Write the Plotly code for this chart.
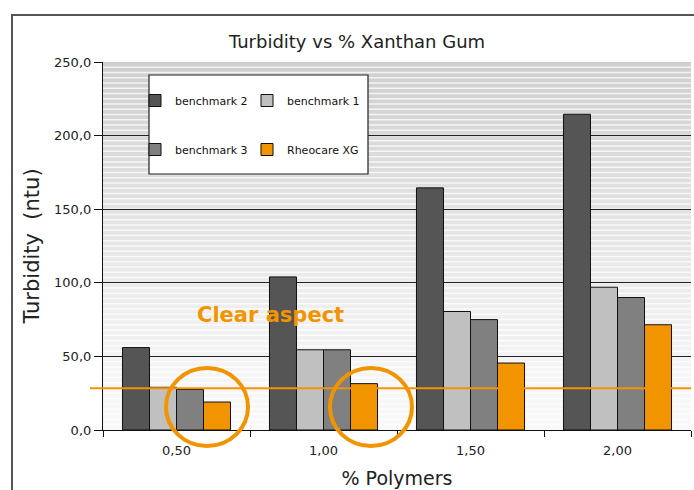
import plotly.graph_objects as go

# ---- data ----
categories = ["0,50", "1,00", "1,50", "2,00"]
benchmark_2 = [56, 104, 164.5, 214.5]
benchmark_1 = [29, 54.5, 80.5, 97]
benchmark_3 = [27.5, 54.5, 75, 90]
rheocare_xg = [19, 31.5, 45.5, 71.5]
clear_threshold = 28.3
y_ticks = [0, 50, 100, 150, 200, 250]

ORANGE = "#F29400"
FONT = "DejaVu Sans"

series = [
    ("benchmark 2", benchmark_2, "#555555", "legend", "g1"),
    ("benchmark 1", benchmark_1, "#C0C0C0", "legend2", "g2"),
    ("benchmark 3", benchmark_3, "#808080", "legend", "g3"),
    ("Rheocare XG", rheocare_xg, ORANGE, "legend2", "g4"),
]

fig = go.Figure()
for name, vals, col, leg, grp in series:
    fig.add_trace(go.Bar(
        x=categories, y=vals, name=name,
        marker=dict(color=col, line=dict(color="#111111", width=1)),
        legend=leg, legendgroup=grp,
    ))

# ---- plot-area geometry (pixels) ----
W, H = 694, 490
ML, MR, MT, MB = 103, 3, 62, 60
PW, PH = W - ML - MR, H - MT - MB

def px_x(x):
    return (x - ML) / PW

def px_y(y):
    return (H - MB - y) / PH

shapes = []
# gradient background with white stripes (texture)
nb = 46
for i in range(nb):
    t0 = i / nb
    t1 = (i + 1) / nb
    tm = (t0 + t1) / 2
    g = int(round(249 - (249 - 206) * (tm ** 1.25)))
    shapes.append(dict(type="rect", xref="paper", yref="paper", x0=0, x1=1,
                       y0=t0, y1=t1, fillcolor=f"rgb({g},{g},{g})",
                       line=dict(width=0), layer="below"))
ns = 70
for i in range(1, ns):
    t = i / ns
    shapes.append(dict(type="line", xref="paper", yref="paper", x0=0, x1=1,
                       y0=t, y1=t, line=dict(color="rgba(255,255,255,0.75)", width=1.5),
                       layer="below"))

# outer chart frame
shapes.append(dict(type="rect", xref="paper", yref="paper",
                   x0=px_x(12), x1=px_x(720), y0=px_y(520), y1=px_y(15),
                   line=dict(color="#555555", width=2), layer="below"))
# legend box
shapes.append(dict(type="rect", xref="paper", yref="paper",
                   x0=px_x(149), x1=px_x(368), y0=px_y(174), y1=px_y(75),
                   fillcolor="white", line=dict(color="#222222", width=1.2), layer="above"))
# clear threshold line
shapes.append(dict(type="line", xref="paper", yref="paper",
                   x0=px_x(90), x1=1, y0=clear_threshold / 250, y1=clear_threshold / 250,
                   line=dict(color=ORANGE, width=2), layer="above"))
# highlight circles
for (cx0, cx1) in [(166, 248), (330, 412)]:
    shapes.append(dict(type="circle", xref="paper", yref="paper",
                       x0=px_x(cx0), x1=px_x(cx1), y0=px_y(446), y1=px_y(368),
                       line=dict(color=ORANGE, width=4), layer="above"))

fig.update_layout(
    width=W, height=H,
    margin=dict(l=ML, r=MR, t=MT, b=MB),
    paper_bgcolor="white",
    plot_bgcolor="#f4f4f4",
    separators=",.",
    font=dict(family=FONT, color="#222222"),
    barmode="group",
    bargap=0.265,
    bargroupgap=0,
    title=dict(text="Turbidity vs % Xanthan Gum", x=357 / W, xref="container",
               y=1 - 42 / H, yref="container", xanchor="center", yanchor="middle",
               font=dict(size=18, family=FONT, color="#222222")),
    xaxis=dict(
        title=dict(text="% Polymers", font=dict(size=19, family=FONT), standoff=14),
        showline=True, linecolor="#111111", linewidth=1.2,
        ticks="outside", tickson="boundaries", ticklen=6, tickcolor="#111111",
        tickfont=dict(size=13, family=FONT), showgrid=False,
        ticklabelstandoff=8, automargin=False,
    ),
    yaxis=dict(
        title=dict(text="Turbidity  (ntu)", font=dict(size=21, family=FONT), standoff=8),
        range=[0, 250], tickvals=y_ticks, tickformat=".1f",
        showline=True, linecolor="#111111", linewidth=1.2,
        ticks="outside", ticklen=8, tickcolor="#111111",
        tickfont=dict(size=13, family=FONT),
        showgrid=True, gridcolor="#222222", gridwidth=1.2,
        zeroline=False, automargin=False,
    ),
    legend=dict(x=px_x(135), y=px_y(86), xanchor="left", yanchor="top",
                bgcolor="rgba(0,0,0,0)", borderwidth=0, tracegroupgap=30,
                font=dict(size=11, family=FONT, color="#111111"), orientation="v"),
    legend2=dict(x=px_x(247), y=px_y(86), xanchor="left", yanchor="top",
                 bgcolor="rgba(0,0,0,0)", borderwidth=0, tracegroupgap=30,
                 font=dict(size=11, family=FONT, color="#111111"), orientation="v"),
    shapes=shapes,
    annotations=[dict(text="<b>Clear aspect</b>", xref="paper", yref="paper",
                      x=px_x(270), y=px_y(315), xanchor="center", yanchor="middle",
                      showarrow=False,
                      font=dict(size=21, family=FONT, color=ORANGE))],
)

fig.write_html("out.html", config={"displayModeBar": False},
               post_script="document.body.style.margin='0';document.body.style.overflow='hidden';")
